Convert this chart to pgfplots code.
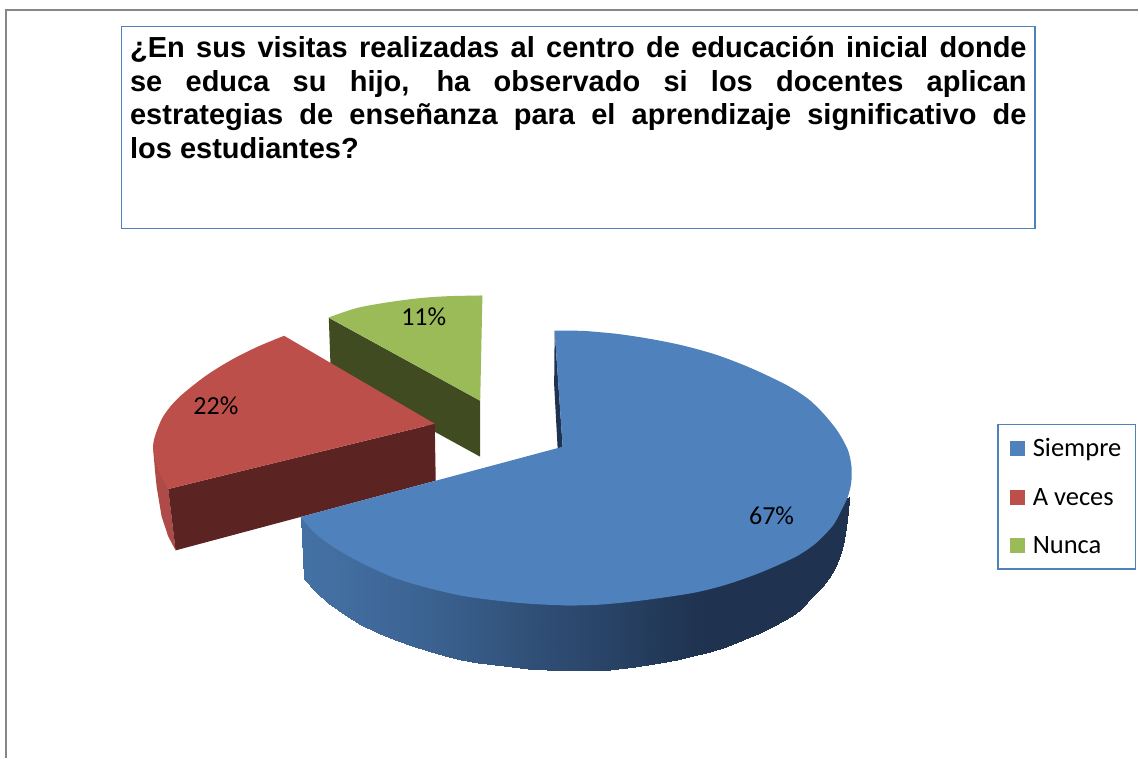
\documentclass[border=0pt]{standalone}
\usepackage{pgfplots}
\pgfplotsset{compat=1.18}
\usepackage{fontspec}
\setmainfont{Carlito}
\newfontfamily\arialf{Liberation Sans}
\definecolor{frameg}{HTML}{868686}
\definecolor{boxb}{HTML}{4F81BD}
\definecolor{piew}{HTML}{4F81BD}
\definecolor{pier}{HTML}{BD4F4B}
\definecolor{pierw}{HTML}{AE4A47}
\definecolor{pierd}{HTML}{5B2423}
\definecolor{pieg}{HTML}{9BBB59}
\definecolor{piegd}{HTML}{404B21}
\definecolor{pienavy}{HTML}{1F3350}
\pgfplotsset{
  swatch/.style={legend image code/.code={\fill[##1, draw=none] (0pt,-7.5pt) rectangle (15pt,7.5pt);\path (20pt,0pt);}}
}
\begin{document}
\begin{tikzpicture}
\begin{axis}[
  scale only axis, width=1139pt, height=758pt,
  xmin=0, xmax=1139, ymin=0, ymax=758, y dir=reverse,
  hide axis, clip=false,
  colormap={wall}{rgb255=(68,113,165) rgb255=(31,51,80)},
  point meta min=0, point meta max=1,
  legend style={at={(axis cs:998,424)}, anchor=north west, draw=boxb, line width=1.4pt,
    font=\fontsize{26.5}{26.5}\selectfont, cells={anchor=west}, inner xsep=12pt, inner ysep=12pt,
    row sep=26pt, /tikz/every even column/.append style={column sep=0pt}},
  legend cell align=left,
]
% page
\addplot[fill=white, draw=none, forget plot] coordinates {(0,0)(1139,0)(1139,758)(0,758)};
\addplot[frameg, line width=1.4pt, forget plot] coordinates {(6,758)(6,10)(1139,10)};

% Nunca: inner wall and top
\addplot[fill=piegd, draw=none, forget plot] coordinates {(329,318)(480.5,401)(480.5,457)(435,432)(331,374)};
\addplot[fill=pieg, draw=none, smooth, forget plot] coordinates {
  (328.7,317.7)(356.7,308.3)(386.7,302.7)(420,298.3)(450,296.3)(482.7,295.7)};
\addplot[fill=pieg, draw=none, forget plot] coordinates {
  (328.7,317.7)(405,303)(482.7,295.7)(480.5,401)};

% A veces: walls and top
\addplot[fill=pierw, draw=none, forget plot] coordinates {
  (153.3,450)(155,470)(156.7,486.7)(161.7,516.7)(168.3,536.7)(175.7,550.7)(168.3,489.3)};
\addplot[fill=pierd, draw=none, forget plot] coordinates {
  (168.3,489.3)(435,424)(436,481)(300.7,517.3)(175.7,550.7)};
\addplot[fill=pier, draw=none, smooth, forget plot] coordinates {
  (284.3,336)(258.3,346.7)(231.7,360)(205,376.7)(178.3,398.3)(163.3,416.7)(155,436.7)(153.3,450)(158.3,470)(168.3,489.3)};
\addplot[fill=pier, draw=none, forget plot] coordinates {
  (284.3,336)(210,410)(168.3,489.3)(435,424)};

% Siempre: outer wall with its gradient, thin inner wall, top
\addplot[patch, patch type=rectangle, shader=interp, point meta=explicit, forget plot, table/row sep=\\,
  patch table={
    0 1 3 2\\ 2 3 5 4\\ 4 5 7 6\\ 6 7 9 8\\ 8 9 11 10\\ 10 11 13 12\\ 12 13 15 14\\
    14 15 17 16\\ 16 17 19 18\\ 18 19 21 20\\ 20 21 23 22\\ 22 23 25 24\\ 24 25 27 26\\
    26 27 29 28\\ 28 29 31 30\\ 30 31 33 32\\ 32 33 35 34\\ 34 35 37 36\\ 36 37 39 38\\
    38 39 41 40\\ 40 41 43 42\\ 42 43 45 44\\ 44 45 47 46\\ 46 47 49 48\\ 48 49 51 50\\
    50 51 53 52\\ 52 53 55 54\\ 54 55 57 56\\ 56 57 59 58\\ 58 59 61 60\\ 60 61 63 62\\ 62 63 65 64\\
    64 65 67 66\\ 66 67 69 68\\ 68 69 71 70\\ 70 71 73 72\\ 72 73 75 74\\ 74 75 77 76\\ 76 77 79 78\\
  }] table[x=x, y=y, meta=c] {
x y c\\
300.7 517.3 0\\ 304.3 579 0\\
316 530 0.02\\ 316 592 0.02\\
328.3 540 0.04\\ 328.3 603.3 0.04\\
345 550 0.07\\ 345 615 0.07\\
361.7 558 0.10\\ 361.7 625 0.10\\
378 566 0.13\\ 378 633 0.13\\
395 573 0.17\\ 395 640 0.17\\
412 578 0.20\\ 412 646.2 0.20\\
428.3 583 0.24\\ 428.3 651.7 0.24\\
445 587 0.29\\ 445 656.1 0.29\\
461.7 591 0.33\\ 461.7 660 0.33\\
478 594 0.38\\ 478 663.1 0.38\\
495 596 0.43\\ 495 665.7 0.43\\
512 598 0.48\\ 512 667.6 0.48\\
528.3 599 0.53\\ 528.3 669 0.53\\
547 600 0.58\\ 547 670.3 0.58\\
565 600 0.63\\ 565 671 0.63\\
588 600 0.69\\ 588 670.9 0.69\\
610 600 0.74\\ 610 670 0.74\\
635 597 0.81\\ 635 667.2 0.81\\
660 594 0.90\\ 660 663.3 0.90\\
677 591 0.94\\ 677 660.2 0.94\\
693.3 588 0.98\\ 693.3 656.7 0.98\\
710 584 1\\ 710 652.3 1\\
726.7 580 1\\ 726.7 647.3 1\\
743 574 1\\ 743 640.8 1\\
760 568 1\\ 760 633.3 1\\
772 563 1\\ 772 627.8 1\\
783.3 558 1\\ 783.3 621.7 1\\
792 553 1\\ 792 616 1\\
800 549 1\\ 800 610 1\\
813.3 540 1\\ 813.3 596.7 1\\
822 532 1\\ 822 587.5 1\\
830 525 1\\ 830 578.3 1\\
836 518 1\\ 836 568.7 1\\
840 512 1\\ 840 558.3 1\\
843 506 1\\ 843 549.5 1\\
845 502 1\\ 845 540 1\\
847.5 498 1\\ 847.5 520 1\\
850 497 1\\ 850 500 1\\
};
\addplot[fill=pienavy, draw=none, forget plot] coordinates {(555,330.7)(554.5,385)(558,449)(563,447)};
\addplot[fill=piew, draw=none, smooth, forget plot] coordinates {
  (583.3,331)(616.7,334)(650,339)(683.3,345.7)(716.7,355)(750,367.7)(783.3,383.3)(800,393)(811.7,401.7)
  (825,415)(838.3,431.7)(848.3,450)(852,466.7)(851.7,483.3)(848.3,497)(841.7,511)(833.3,526)(816.7,543.3)
  (800,555)(786.7,561.7)(760,573.3)(726.7,585)(693.3,593.3)(643.3,600.7)(600,605)(565,605.7)};
\addplot[fill=piew, draw=none, smooth, forget plot] coordinates {
  (600,605)(565,605.7)(528.3,604)(495,600.7)(461.7,596)(428.3,588.3)(395,578.3)(361.7,563.3)(335,548.3)(315,533.3)(300.7,517.3)};
\addplot[fill=piew, draw=none, forget plot] coordinates {
  (555,330.7)(583.3,331)(700,470)(590,600)(450,575)(300.7,517.3)(563,447)};

% legend
\addlegendimage{swatch, fill=piew}\addlegendentry{Siempre}
\addlegendimage{swatch, fill=pier}\addlegendentry{A veces}
\addlegendimage{swatch, fill=pieg}\addlegendentry{Nunca}

% title box
\node[anchor=north west, draw=boxb, line width=1.4pt, minimum width=914pt, minimum height=202pt, inner sep=0pt] at (axis cs:121,26) {};
\node[anchor=north west, text width=897pt, align=justify, inner sep=0pt,
  font=\arialf\bfseries\fontsize{29}{33.5}\selectfont] at (axis cs:130,36.5) {%
  ¿En sus visitas realizadas al centro de educación inicial donde\linebreak
  se educa su hijo, ha observado si los docentes aplican\linebreak
  estrategias de enseñanza para el aprendizaje significativo de\linebreak
  los estudiantes?};

% data labels
\node[font=\fontsize{26}{26}\selectfont] at (axis cs:424,317) {11\%};
\node[font=\fontsize{26}{26}\selectfont] at (axis cs:216,406) {22\%};
\node[font=\fontsize{26}{26}\selectfont] at (axis cs:772,516) {67\%};
\end{axis}
\end{tikzpicture}
\end{document}
